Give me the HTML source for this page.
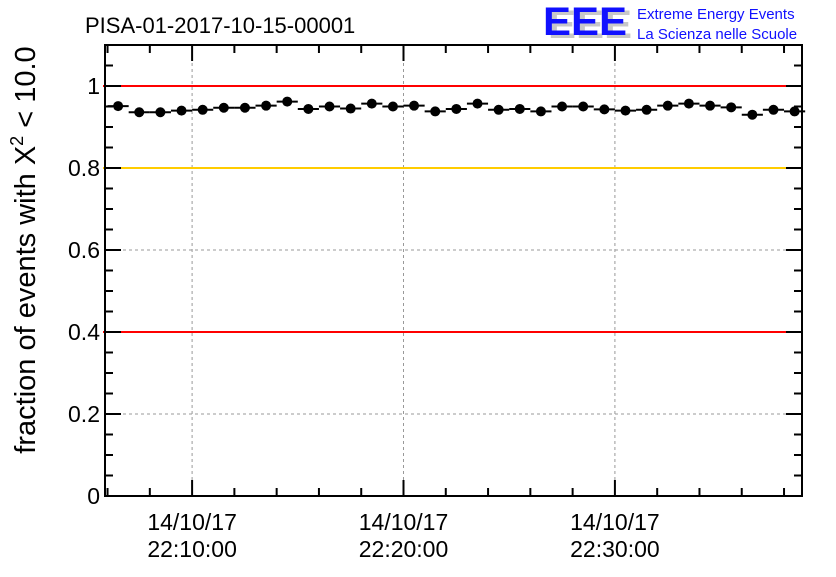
<!DOCTYPE html>
<html><head><meta charset="utf-8"><style>
body{margin:0;background:#fff;}
svg text{font-family:"Liberation Sans",Arial,sans-serif;}
</style></head><body>
<svg id="c" width="836" height="572" xmlns="http://www.w3.org/2000/svg">
<rect width="836" height="572" fill="#fff"/>
<text x="85" y="33" font-size="22" fill="#000">PISA-01-2017-10-15-00001</text>
<g>
<text x="548" y="38" font-size="40" font-weight="bold" fill="#c8c8c8" textLength="84" lengthAdjust="spacingAndGlyphs">EEE</text>
<text x="543" y="35" font-size="40" font-weight="bold" fill="#1010ff" textLength="84" lengthAdjust="spacingAndGlyphs">EEE</text>
<text x="637" y="19" font-size="15" fill="#1010ff">Extreme Energy Events</text>
<text x="637" y="39" font-size="15" fill="#1010ff">La Scienza nelle Scuole</text>
</g>
<text transform="translate(35,250) rotate(-90)" text-anchor="middle" font-size="29" fill="#000">fraction of events with X<tspan dy="-12" font-size="18">2</tspan><tspan dy="12"> &lt; 10.0</tspan></text>
<g id="plot"></g>
</svg>
<script>
const yTicks=[0,0.2,0.4,0.6,0.8,1];
const yTickLabels=["0","0.2","0.4","0.6","0.8","1"];
const xTicksMin=[10,20,30];
const xTickLabels=[["14/10/17","22:10:00"],["14/10/17","22:20:00"],["14/10/17","22:30:00"]];
const refLines=[1.0,0.8,0.4];
const refColors=["#ff0000","#ffcc00","#ff0000"];
const values=[0.951,0.936,0.936,0.940,0.942,0.947,0.947,0.952,0.962,0.944,0.950,0.945,0.957,0.950,0.952,0.938,0.944,0.957,0.942,0.944,0.938,0.950,0.950,0.943,0.940,0.942,0.952,0.957,0.952,0.948,0.930,0.942,0.938];
const firstMinute=6.5;

const L=105,R=802,T=45,B=496;
const xMin=5.88,xMax=38.85,yMin=0,yMax=1.1;
const X=m=>L+(m-xMin)/(xMax-xMin)*(R-L);
const Y=v=>B-(v-yMin)/(yMax-yMin)*(B-T);
const ns="http://www.w3.org/2000/svg";
const g=document.getElementById('plot');
function mk(t,a,p){const e=document.createElementNS(ns,t);for(const k in a)e.setAttribute(k,a[k]);(p||g).appendChild(e);return e;}

for(const v of yTicks){if(v===0)continue;const e=mk('line',{x1:L,x2:R,y1:Y(v),y2:Y(v),stroke:'#999','stroke-dasharray':'3,3','stroke-width':1});

}
for(const m of xTicksMin){const e=mk('line',{x1:X(m),x2:X(m),y1:T,y2:B,stroke:'#999','stroke-dasharray':'3,3','stroke-width':1});

}
refLines.forEach((v,i)=>{const e=mk('line',{x1:L-2,x2:R,y1:Y(v),y2:Y(v),stroke:refColors[i],'stroke-width':2});

});
const fr=mk('rect',{x:L,y:T,width:R-L,height:B-T,fill:'none',stroke:'#000','stroke-width':2});


for(let v=0;v<=1.1001;v+=0.05){const major=Math.abs(v/0.2-Math.round(v/0.2))<1e-6;const len=major?16:8;
mk('line',{x1:L,x2:L+len,y1:Y(v),y2:Y(v),stroke:'#000','stroke-width':2});
mk('line',{x1:R,x2:R-len,y1:Y(v),y2:Y(v),stroke:'#000','stroke-width':2});}
yTicks.forEach((v,i)=>{const t=mk('text',{x:L-5,y:Y(v)+8,'text-anchor':'end','font-size':23,fill:'#000'});t.textContent=yTickLabels[i];

});
for(let m=6;m<=38;m+=2){const major=m%10===0;const len=major?16:8;
mk('line',{x1:X(m),x2:X(m),y1:B,y2:B-len,stroke:'#000','stroke-width':2});
mk('line',{x1:X(m),x2:X(m),y1:T,y2:T+len,stroke:'#000','stroke-width':2});}
xTicksMin.forEach((m,i)=>{for(let j=0;j<2;j++){const t=mk('text',{x:X(m),y:530+j*27,'text-anchor':'middle','font-size':23,fill:'#000'});t.textContent=xTickLabels[i][j];

}});
values.forEach((v,i)=>{const m=firstMinute+i;
const e=mk('line',{x1:X(m-0.5),x2:X(m+0.5),y1:Y(v),y2:Y(v),stroke:'#000','stroke-width':2});


const c=mk('circle',{cx:X(m),cy:Y(v),r:5,fill:'#000'});

});
</script>
</body></html>
